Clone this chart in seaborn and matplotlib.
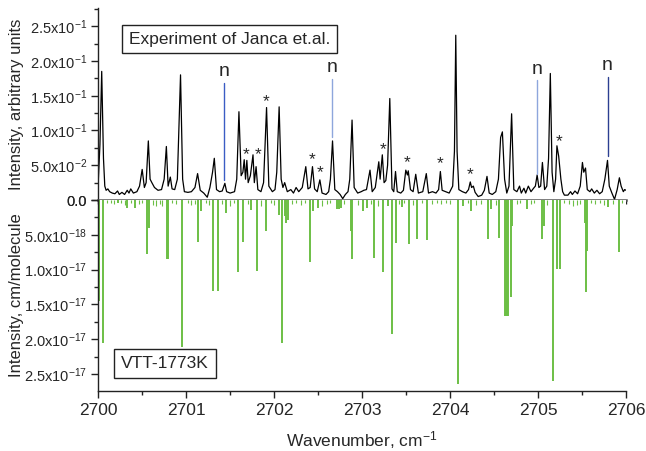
import numpy as np
import pandas as pd
import seaborn as sns
import matplotlib
matplotlib.use("Agg")
import matplotlib.pyplot as plt
from matplotlib.ticker import FixedLocator, MultipleLocator

# ---------------- data ----------------
exp_wn = [2700.000, 2700.020, 2700.040, 2700.060, 2700.075, 2700.090, 2700.110, 2700.130, 2700.160, 2700.190,
          2700.220, 2700.240, 2700.270, 2700.300, 2700.330, 2700.350, 2700.370, 2700.400, 2700.440, 2700.470,
          2700.500, 2700.525, 2700.545, 2700.570, 2700.590, 2700.610, 2700.640, 2700.680, 2700.720, 2700.750,
          2700.775, 2700.795, 2700.820, 2700.840, 2700.870, 2700.900, 2700.936, 2700.960, 2700.980, 2701.020,
          2701.060, 2701.100, 2701.130, 2701.160, 2701.200, 2701.240, 2701.270, 2701.300, 2701.320, 2701.345,
          2701.380, 2701.410, 2701.440, 2701.460, 2701.500, 2701.550, 2701.575, 2701.600, 2701.625, 2701.645,
          2701.660, 2701.675, 2701.690, 2701.705, 2701.730, 2701.760, 2701.775, 2701.795, 2701.815, 2701.850,
          2701.880, 2701.914, 2701.940, 2701.980, 2702.010, 2702.030, 2702.057, 2702.080, 2702.100, 2702.120,
          2702.150, 2702.190, 2702.220, 2702.250, 2702.280, 2702.320, 2702.360, 2702.385, 2702.410, 2702.436,
          2702.460, 2702.490, 2702.520, 2702.545, 2702.590, 2702.620, 2702.640, 2702.664, 2702.690, 2702.720,
          2702.750, 2702.780, 2702.810, 2702.840, 2702.860, 2702.886, 2702.910, 2702.950, 2702.990, 2703.020,
          2703.050, 2703.090, 2703.115, 2703.150, 2703.190, 2703.205, 2703.230, 2703.250, 2703.270, 2703.290,
          2703.315, 2703.340, 2703.360, 2703.380, 2703.400, 2703.440, 2703.470, 2703.497, 2703.515, 2703.525,
          2703.550, 2703.580, 2703.610, 2703.640, 2703.690, 2703.730, 2703.755, 2703.800, 2703.840, 2703.870,
          2703.890, 2703.910, 2703.950, 2703.990, 2704.030, 2704.050, 2704.065, 2704.080, 2704.100, 2704.140,
          2704.180, 2704.210, 2704.230, 2704.245, 2704.265, 2704.285, 2704.320, 2704.360, 2704.390, 2704.420,
          2704.445, 2704.480, 2704.520, 2704.550, 2704.575, 2704.595, 2704.620, 2704.645, 2704.670, 2704.700,
          2704.725, 2704.760, 2704.790, 2704.810, 2704.840, 2704.860, 2704.890, 2704.920, 2704.950, 2704.970,
          2704.990, 2705.010, 2705.030, 2705.050, 2705.075, 2705.100, 2705.120, 2705.140, 2705.160, 2705.180,
          2705.200, 2705.215, 2705.235, 2705.260, 2705.280, 2705.300, 2705.340, 2705.370, 2705.390, 2705.420,
          2705.450, 2705.480, 2705.505, 2705.520, 2705.540, 2705.560, 2705.590, 2705.610, 2705.640, 2705.670,
          2705.700, 2705.730, 2705.760, 2705.790, 2705.810, 2705.840, 2705.870, 2705.900, 2705.925, 2705.945,
          2705.970, 2705.985, 2706.000]
exp_int = [0.024, 0.080, 0.185, 0.060, 0.020, 0.014, 0.016, 0.012, 0.010, 0.009,
           0.013, 0.008, 0.011, 0.008, 0.014, 0.010, 0.016, 0.010, 0.012, 0.020,
           0.044, 0.018, 0.025, 0.085, 0.030, 0.025, 0.018, 0.014, 0.015, 0.030,
           0.077, 0.020, 0.033, 0.016, 0.015, 0.030, 0.180, 0.030, 0.012, 0.011,
           0.012, 0.018, 0.038, 0.014, 0.010, 0.004, 0.018, 0.040, 0.060, 0.015,
           0.012, 0.013, 0.024, 0.012, 0.010, 0.012, 0.030, 0.127, 0.035, 0.040,
           0.058, 0.030, 0.057, 0.025, 0.035, 0.065, 0.025, 0.048, 0.015, 0.012,
           0.025, 0.133, 0.020, 0.012, 0.015, 0.040, 0.134, 0.030, 0.018, 0.025,
           0.012, 0.015, 0.010, 0.018, 0.012, 0.018, 0.048, 0.016, 0.018, 0.048,
           0.016, 0.012, 0.029, 0.010, 0.008, 0.012, 0.030, 0.085, 0.015, 0.012,
           0.008, 0.002, 0.008, 0.012, 0.030, 0.115, 0.018, 0.010, 0.012, 0.014,
           0.015, 0.043, 0.012, 0.018, 0.055, 0.030, 0.065, 0.025, 0.028, 0.050,
           0.146, 0.016, 0.012, 0.041, 0.012, 0.010, 0.014, 0.043, 0.036, 0.042,
           0.015, 0.012, 0.037, 0.010, 0.012, 0.038, 0.010, 0.012, 0.010, 0.015,
           0.041, 0.014, 0.012, 0.010, 0.020, 0.070, 0.237, 0.070, 0.015, 0.012,
           0.010, 0.015, 0.026, 0.018, 0.020, 0.011, 0.005, 0.007, 0.014, 0.034,
           0.010, 0.008, 0.012, 0.030, 0.090, 0.098, 0.030, 0.010, 0.020, 0.124,
           0.015, 0.012, 0.020, 0.010, 0.017, 0.010, 0.020, 0.012, 0.017, 0.020,
           0.036, 0.018, 0.020, 0.054, 0.015, 0.020, 0.060, 0.182, 0.040, 0.012,
           0.030, 0.078, 0.063, 0.030, 0.012, 0.007, 0.007, 0.012, 0.008, 0.013,
           0.009, 0.020, 0.054, 0.040, 0.046, 0.015, 0.012, 0.016, 0.010, 0.014,
           0.009, 0.012, 0.030, 0.057, 0.020, 0.010, 0.001, 0.015, 0.032, 0.020,
           0.012, 0.015, 0.014]

# VTT-1773K line list (cm/molecule)
vtt_wn = [2700.000, 2700.005, 2700.057, 2700.220, 2700.330, 2700.420, 2700.550, 2700.580, 2700.780, 2700.790,
          2700.951, 2701.140, 2701.167, 2701.300, 2701.364, 2701.450, 2701.595, 2701.650, 2701.740, 2701.800,
          2701.905, 2702.050, 2702.084, 2702.120, 2702.140, 2702.160, 2702.405, 2702.440, 2702.500, 2702.710,
          2702.740, 2702.760, 2702.875, 2702.886, 2703.015, 2703.060, 2703.130, 2703.235, 2703.300, 2703.345,
          2703.387, 2703.450, 2703.530, 2703.620, 2703.735, 2704.087, 2704.150, 2704.240, 2704.436, 2704.460,
          2704.557, 2704.625, 2704.638, 2704.650, 2704.664, 2704.693, 2704.700, 2704.870, 2705.050, 2705.073,
          2705.167, 2705.216, 2705.247, 2705.530, 2705.546, 2705.557, 2705.800, 2705.920]
vtt_int = [1.50e-17, 1.45e-17, 2.05e-17, 0.5e-18, 1.1e-18, 1.1e-18, 7.8e-18, 4.0e-18, 8.5e-18, 8.5e-18,
           2.11e-17, 6.0e-18, 1.6e-18, 1.31e-17, 1.31e-17, 1.9e-18, 1.03e-17, 6.0e-18, 1.4e-18, 1.02e-17,
           4.5e-18, 2.1e-18, 2.06e-17, 2.3e-18, 3.3e-18, 2.8e-18, 8.9e-18, 1.6e-18, 1.1e-18, 1.3e-18,
           1.3e-18, 1.2e-18, 4.5e-18, 8.5e-18, 1.6e-18, 1.1e-18, 8.3e-18, 1.03e-17, 0.9e-18, 1.92e-17,
           6.2e-18, 1.0e-18, 6.3e-18, 5.6e-18, 5.7e-18, 2.65e-17, 0.9e-18, 1.6e-18, 5.6e-18, 1.3e-18,
           5.4e-18, 1.66e-17, 1.66e-17, 1.66e-17, 1.66e-17, 1.39e-17, 3.8e-18, 1.3e-18, 5.6e-18, 3.8e-18,
           2.60e-17, 9.9e-18, 9.9e-18, 3.3e-18, 1.32e-17, 7.3e-18, 1.0e-18, 7.4e-18]
# weak lines forming the fuzz along zero
weak_wn = [2700.10, 2700.14, 2700.18, 2700.26, 2700.30, 2700.37, 2700.46, 2700.50, 2700.62, 2700.66,
           2700.70, 2700.73, 2700.84, 2700.88, 2701.02, 2701.06, 2701.10, 2701.22, 2701.26, 2701.41,
           2701.50, 2701.54, 2701.70, 2701.85, 2701.96, 2702.00, 2702.20, 2702.25, 2702.30, 2702.35,
           2702.55, 2702.60, 2702.64, 2702.80, 2702.95, 2703.10, 2703.18, 2703.42, 2703.48, 2703.58,
           2703.68, 2703.80, 2703.85, 2703.90, 2703.95, 2704.00, 2704.20, 2704.30, 2704.35, 2704.52,
           2704.76, 2704.80, 2704.92, 2704.96, 2705.10, 2705.30, 2705.35, 2705.40, 2705.44, 2705.48,
           2705.60, 2705.65, 2705.70, 2705.75, 2705.85, 2705.96]
weak_int = [0.5e-18, 0.4e-18, 0.6e-18, 0.4e-18, 0.7e-18, 0.5e-18, 0.6e-18, 0.5e-18, 0.7e-18, 0.9e-18,
            0.6e-18, 0.8e-18, 0.5e-18, 0.6e-18, 0.5e-18, 0.7e-18, 0.6e-18, 0.5e-18, 0.7e-18, 0.6e-18,
            0.8e-18, 0.5e-18, 0.6e-18, 0.9e-18, 0.5e-18, 0.7e-18, 0.6e-18, 0.5e-18, 0.7e-18, 0.5e-18,
            0.9e-18, 0.6e-18, 0.5e-18, 0.6e-18, 0.7e-18, 0.6e-18, 0.8e-18, 0.6e-18, 0.5e-18, 0.7e-18,
            0.5e-18, 0.6e-18, 0.5e-18, 0.6e-18, 0.5e-18, 0.6e-18, 0.5e-18, 0.7e-18, 0.6e-18, 0.7e-18,
            0.6e-18, 0.5e-18, 0.6e-18, 0.5e-18, 0.7e-18, 0.5e-18, 0.6e-18, 0.8e-18, 0.7e-18, 0.6e-18,
            0.5e-18, 0.6e-18, 0.5e-18, 0.7e-18, 0.6e-18, 0.5e-18]

n_marks_x = [2701.432, 2702.660, 2704.985, 2705.790]
n_marks_lo = [0.029, 0.0905, 0.037, 0.063]
n_marks_hi = [0.168, 0.174, 0.172, 0.177]
n_colors = ['#3b5cc4', '#8ea6dc', '#8ea6dc', '#2c3f91']

star_x = [2701.686, 2701.818, 2701.914, 2702.436, 2702.519, 2703.239, 2703.511, 2703.891, 2704.232, 2705.235]
star_y = [0.066, 0.065, 0.141, 0.058, 0.039, 0.073, 0.054, 0.053, 0.037, 0.084]

top_ticks = [0.0, 0.05, 0.10, 0.15, 0.20, 0.25]
top_labels = ['0.0', '5.0x10$^{-2}$', '1.0x10$^{-1}$', '1.5x10$^{-1}$', '2.0x10$^{-1}$', '2.5x10$^{-1}$']
bot_ticks = [0.0, 5e-18, 1.0e-17, 1.5e-17, 2.0e-17, 2.5e-17]
bot_labels = ['0.0', '5.0x10$^{-18}$', '1.0x10$^{-17}$', '1.5x10$^{-17}$', '2.0x10$^{-17}$', '2.5x10$^{-17}$']
x_ticks = [2700, 2701, 2702, 2703, 2704, 2705, 2706]

# ---------------- style ----------------
sns.set_theme(style="ticks")
plt.rcParams['font.family'] = ['Liberation Sans', 'DejaVu Sans']
plt.rcParams['mathtext.fontset'] = 'custom'
plt.rcParams['mathtext.rm'] = 'Liberation Sans'
plt.rcParams['mathtext.it'] = 'Liberation Sans:italic'
plt.rcParams['mathtext.default'] = 'regular'
plt.rcParams['axes.edgecolor'] = '#222222'

fig = plt.figure(figsize=(6.46, 4.51), dpi=100)
L, R = 0.152, 0.969
ax1 = fig.add_axes([L, 0.5565, R - L, 0.982 - 0.5565])
ax2 = fig.add_axes([L, 0.133, R - L, 0.5565 - 0.133])

df = pd.DataFrame({'wn': exp_wn, 'I': exp_int})
sns.lineplot(data=df, x='wn', y='I', ax=ax1, color='black', lw=0.9, sort=False)

green = '#6cbf45'
ax2.vlines(weak_wn, 0, weak_int, color=green, lw=0.8)
ax2.vlines(vtt_wn, 0, vtt_int, color=green, lw=1.4)

for x, lo, hi, c in zip(n_marks_x, n_marks_lo, n_marks_hi, n_colors):
    ax1.plot([x, x], [lo, hi], color=c, lw=1.0)
    ax1.text(x, hi + 0.004, 'n', ha='center', va='bottom', fontsize=14)
for x, y in zip(star_x, star_y):
    ax1.text(x, y, '*', ha='center', va='center', fontsize=12.5)

for ax in (ax1, ax2):
    ax.set_xlim(2700, 2706)
    ax.spines['top'].set_visible(False)
    ax.spines['right'].set_visible(False)
    ax.spines['left'].set_linewidth(1.0)
    ax.xaxis.set_major_locator(FixedLocator(x_ticks))
    ax.xaxis.set_minor_locator(MultipleLocator(0.5))
    ax.tick_params(axis='both', which='major', direction='out', length=5, width=1.0, color='#222222')
    ax.tick_params(axis='both', which='minor', direction='out', length=3, width=1.0, color='#222222')
    ax.tick_params(axis='y', which='major', pad=3)
    ax.set_xlabel('')
    ax.set_ylabel('')

ax1.set_ylim(0, 0.276)
ax1.yaxis.set_major_locator(FixedLocator(top_ticks))
ax1.set_yticklabels(top_labels, fontsize=10.5)
ax1.yaxis.set_minor_locator(MultipleLocator(0.025))
ax1.tick_params(axis='x', which='both', labelbottom=False, length=3)
ax1.spines['bottom'].set_linewidth(1.8)
ax1.spines['bottom'].set_color('#555555')
ax1.spines['bottom'].set_zorder(5)

ax2.set_ylim(2.744e-17, 0)
ax2.yaxis.set_major_locator(FixedLocator(bot_ticks))
ax2.set_yticklabels(bot_labels, fontsize=10.5)
ax2.yaxis.set_minor_locator(MultipleLocator(2.5e-18))
ax2.set_xticklabels([str(t) for t in x_ticks], fontsize=12.5)
ax2.spines['bottom'].set_linewidth(1.0)

ax1.set_ylabel('Intensity, arbitrary units', fontsize=12)
ax2.set_ylabel('Intensity, cm/molecule', fontsize=12)
ax1.yaxis.set_label_coords(-0.141, 0.5)
ax2.yaxis.set_label_coords(-0.141, 0.5)
ax2.set_xlabel('Wavenumber, cm$^{-1}$', fontsize=12.5, labelpad=8)

ax1.text(0.249, 0.839, 'Experiment of Janca et.al.', transform=ax1.transAxes, ha='center', va='center',
         fontsize=12.5, bbox=dict(boxstyle='square,pad=0.4', fc='white', ec='#222222', lw=1.0))
ax2.text(0.126, 0.144, 'VTT-1773K', transform=ax2.transAxes, ha='center', va='center',
         fontsize=12.5, bbox=dict(boxstyle='square,pad=0.4', fc='white', ec='#222222', lw=1.0))

fig.savefig('out.png', dpi=100)
